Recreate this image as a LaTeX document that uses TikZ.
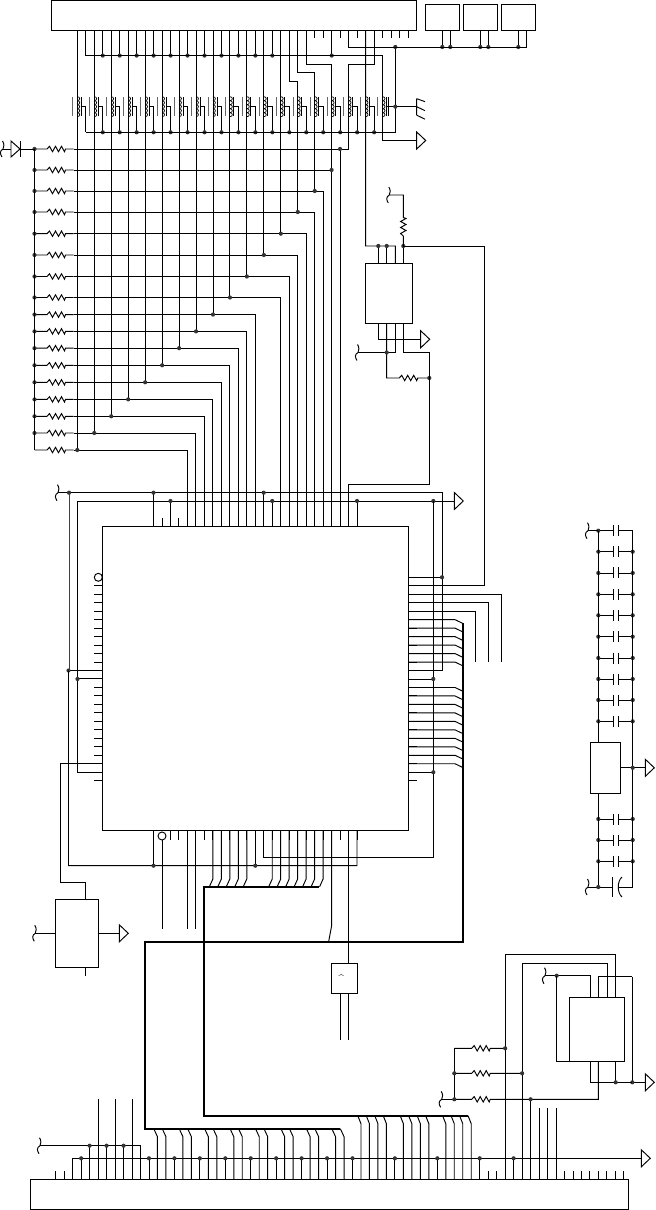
\documentclass[tikz,border=0pt]{standalone}
\def\px{0.01cm}
\def\reszig{-- ++(2.5,-2.7) -- ++(3,5.4) -- ++(3,-5.4) -- ++(3,5.4) -- ++(3,-5.4) -- ++(3,5.4) -- ++(1,-2.7)}
\def\reszigv{-- ++(-2.7,-2.5) -- ++(5.4,-3) -- ++(-5.4,-3) -- ++(5.4,-3) -- ++(-5.4,-3) -- ++(5.4,-3) -- ++(-2.7,-1)}
\newcommand{\jn}[1]{\fill[black!80] (#1) circle (2.1);}
\tikzset{
  icbox/.style={draw,rectangle,inner sep=0pt,outer sep=0pt},
  busline/.style={line width=0.58pt,line join=miter},
  gndtri/.pic={\draw[fill=white] (0,-8.5) -- (9,0) -- (0,8.5) -- cycle;},
  offsheet/.pic={\draw (-0.5,-8) .. controls (1.5,-5) and (1,-2) .. (0,0) .. controls (-3.5,2) and (-3,5) .. (-1,8);},
  chassis/.pic={\draw (0,-8) -- (0,8.5) (0,-8) -- (8.3,-5) (0,0) -- (8.3,4) (0,8.5) -- (8.3,12.5);},
  coilshape/.pic={
    \draw[black!60] (-4.7,-9.5) -- (-4.7,9);
    \draw (4,-9.5) -- (4,9);
    \foreach \c in {-10,-6,-2,2,6} {\draw[line width=0.2pt] (0,\c) .. controls (3.2,\c) and (3.2,\c+4) .. (0,\c+4);}
  }
}
\begin{document}
\begin{tikzpicture}[x=0.01cm,y=-0.01cm,line width=0.27pt]
\useasboundingbox (0,0) rectangle (655,1210);

\node[icbox,minimum width=365.1*\px,minimum height=29.8*\px] (conntop) at (234.15,15.4) {};
\node[icbox,minimum width=34*\px,minimum height=26*\px] (relaya) at (442.3,17.3) {};
\node[icbox,minimum width=34.4*\px,minimum height=26*\px] (relayb) at (480.5,17.3) {};
\node[icbox,minimum width=34.4*\px,minimum height=26*\px] (relayc) at (518.5,17.3) {};
\node[icbox,minimum width=305.7*\px,minimum height=304*\px] (chip) at (255.15,678) {};
\node[icbox,minimum width=47*\px,minimum height=60*\px] (driver) at (388.8,293.3) {};
\node[icbox,minimum width=43*\px,minimum height=68*\px] (psu) at (76.8,933.3) {};
\node[icbox,minimum width=26*\px,minimum height=29.7*\px] (osc) at (344.3,978.15) {};
\node[icbox,minimum width=30*\px,minimum height=51*\px] (vreg) at (605.3,767.8) {};
\node[icbox,minimum width=55.3*\px,minimum height=63.7*\px] (lowbox) at (596.65,1029.15) {};
\node[icbox,minimum width=598.4*\px,minimum height=30*\px] (connbot) at (329.5,1194.3) {};
\node[font=\fontsize{3}{3}\selectfont\bfseries,inner sep=0pt] (osclabel) at (341.3,978.5) {\textasciicircum};

\foreach \k in {0,...,39} {\coordinate (T\k) at ({77.3+8.48*\k},30.3);}
\foreach \k in {0,...,67} {\coordinate (B\k) at ({55.7+8.48*\k},1179.3);}
\foreach \k in {0,...,24} {
  \coordinate (CT\k) at ({153.5+8.48*\k},526);
  \coordinate (CB\k) at ({153.5+8.48*\k},830);
  \coordinate (CR\k) at (408,{577.3+8.475*\k});
}
\foreach \k in {0,...,23} {\coordinate (CL\k) at (102.3,{585.8+8.47*\k});}
\foreach \n/\y in {1/149,2/170,3/191,4/212,5/233.7,6/255,7/276.5,8/297.5,9/314.6,10/331.4,11/348.2,12/365.3,13/382.3,14/399.4,15/416.3,16/433,17/450} {
  \coordinate (R\n) at (34.5,\y);
  \coordinate (E\n) at (73.5,\y);
}
\coordinate (coily) at (0,106.7);
\coordinate (raily) at (0,132.3);
\coordinate (gtop) at (395.3,47);
\coordinate (trione) at (416.7,140.5);
\coordinate (utrail) at (365.6,246);
\coordinate (pw) at (484.3,246);
\coordinate (vcca) at (58,492.7);
\coordinate (vl) at (69,492.7);
\coordinate (vlb) at (68.5,670.5);
\coordinate (trid) at (454.3,501);
\coordinate (dp) at (433.3,501);
\coordinate (rr) at (357,865.7);
\foreach \n/\x in {1/378.3,2/386.7,3/395.3,4/403.3} {
  \coordinate (ut\n) at (\x,263.3);
  \coordinate (ub\n) at (\x,323.3);
}
\foreach \n/\x in {1/590.3,2/598.3,3/607.3,4/615.7} {
  \coordinate (lt\n) at (\x,997.3);
  \coordinate (lb\n) at (\x,1061);
}

\foreach \k in {28,29,31,33,36,37,38,39} {\draw (T\k) -- ++(0,8);}
\foreach \k in {3,5,...,23} {
  \draw (T\k) -- ++(0,25.3) coordinate (d);
  \jn{d}
}
\draw (T30) -- ++(0,25.3) coordinate (d);
\jn{d}
\draw (T1) -- ++(0,25.3) -| (T36 |- trione) -- (trione);
\pic at (trione) {gndtri};

\foreach \k in {0,2,...,36} {\pic at (T\k |- coily) {coilshape};}
\foreach \k in {0,2,...,34} {
  \draw (T\k |- coily) ++(4,0) -- ++(4.5,0) -- ++(0,25.6) coordinate (d);
  \ifnum\k>0 \jn{d} \fi
}
\draw (T1 |- raily) -| (gtop);
\draw (T36 |- coily) ++(4,0) -- (gtop |- coily) -- (416.7,106.7);
\draw (T36 |- coily) ++(5.5,-9.5) -- ++(0,18.5);
\jn{gtop |- coily}
\jn{gtop}
\pic at (416.7,106.7) {chassis};

\foreach \p in {442.3,450.3,480.3,488.3,518.3} {
  \coordinate (rp) at (\p,30.3);
  \draw (rp) -- ++(0,16.7) coordinate (d);
  \jn{d}
}
\coordinate (pc2) at (526.7,30.3);
\draw (T32) -- ++(0,16.7) -| (pc2);

\foreach \n in {1,...,17} {\draw (R\n) -- ++(12.5,0) \reszig -- (E\n);}
\foreach \n in {1,...,16} {\jn{R\n}}
\draw (R1) -- (R17);

\foreach \k/\n/\m in {0/17/4,2/16/5,4/15/6,6/14/7,8/13/8,10/12/9,12/11/10,14/10/11,16/9/12,18/8/15,20/7/16,22/6/17,24/5/18} {
  \draw (T\k) -- (T\k |- R\n);
  \draw (E\n) -| (CT\m);
  \jn{T\k |- R\n}
}
\draw (T25) -- ++(0,50.7) -| (T26 |- R4);
\draw (E4) -| (CT19);
\jn{T26 |- R4}
\draw (T26) -- ++(0,41.7) -| (T28 |- R3);
\draw (E3) -| (CT20);
\jn{T28 |- R3}
\draw (T27) -- ++(0,33.7) -| (CT21);
\draw (E2) -- (CT21 |- R2);
\jn{CT21 |- R2}
\draw (T35) -- ++(0,33.7) -- ++(-25.4,0) |- (E1);
\draw (CT22 |- R1) -- (CT22);
\jn{CT22 |- R1}

\draw (11,149) -- (3,149);
\pic at (3,149) {offsheet};
\draw[fill=white] (11,141) -- (20,149) -- (11,157) -- cycle;
\draw (20.3,141) -- (20.3,157);
\draw (20,149) -- (R1);

\draw (T34) -- (utrail) -| (ut3);
\draw (ut1) -- (ut1 |- utrail);
\draw (ut2) -- (ut2 |- utrail);
\jn{ut1 |- utrail}
\jn{ut2 |- utrail}
\draw (ut4) -- (ut4 |- pw);
\jn{ut4 |- pw}
\draw (CR1) -| (pw) -- (ut4 |- pw);
\draw (ut4 |- pw) -- ++(0,-10) \reszigv -- ++(0,-22.5) -- ++(-14,0) coordinate (d);
\pic at (d) {offsheet};
\coordinate (tribe) at (420.7,339.3);
\draw (ub1) |- (tribe);
\pic at (tribe) {gndtri};
\coordinate (tl) at (358,352.5);
\coordinate (rowr) at (429.3,378);
\coordinate (rowb) at (429.3,484.3);
\draw (ub3) |- (tl);
\pic at (tl) {offsheet};
\draw (ub2) -- ++(0,54.7) -- ++(12.5,0) \reszig -- (rowr);
\jn{ub2 |- tl}
\jn{rowr}
\draw (ub4) |- (rowb |- tl) -- (rowb) -| (CT23);

\foreach \k in {0,...,24} {\draw (CT\k) -- ++(0,-8);}
\foreach \k in {0,2,3,...,24} {\draw (CB\k) -- ++(0,10);}
\foreach \k in {0,...,23} {\draw (CL\k) -- ++(-8,0);}
\foreach \k in {0,...,24} {\draw (CR\k) -- ++(8.7,0);}
\draw (98.3,577.3) circle (4);
\draw (162,836) circle (4);

\pic at (vcca) {offsheet};
\draw (vcca) -- ++(384,0) |- (CR11);
\draw (CL22) -- ++(-24.8,0) |- (trid);
\pic at (trid) {gndtri};
\draw (CL11) -- ++(-24.8,0) coordinate (d);
\jn{d}
\draw (CL10) -- (vlb);
\jn{vlb}
\jn{vl}
\draw[black!75] (vl) -- (vl |- vlb);
\draw (vlb) |- (rr) -- (CB24);
\foreach \k in {0,13} {
  \draw (CT\k) -- (CT\k |- vl);
  \jn{CT\k |- vl}
}
\foreach \k in {2,14,24} {
  \draw (CT\k) -- (CT\k |- trid);
  \jn{CT\k |- trid}
}
\jn{dp}
\draw (dp) -- ++(0,356.3) -| (CB13);
\foreach \k in {12,23} {
  \draw (CR\k) -- (dp |- CR\k);
  \jn{dp |- CR\k}
}
\draw (CR0) -- ++(34,0) coordinate (d);
\jn{d}
\foreach \k/\x in {2/501,3/488.3,4/475.7} {\draw (CR\k) -- (\x,{577.3+8.475*\k}) -- (\x,661.7);}
\foreach \k in {5,6,7,8,9,10,13,14,15,16,17,18,19,20,21,22} {\draw (CR\k) -- ++(47,0) -- ++(7.7,3.7);}

\foreach \k in {0,12} {
  \draw (CB\k) -- (CB\k |- rr);
  \jn{CB\k |- rr}
}
\draw (CB1) ++(0,10) -- (CB1 |- 0,929);
\foreach \k in {4,5} {\draw (CB\k) -- (CB\k |- 0,929);}
\foreach \k in {7,8,9,10,11,14,15,16,17,18,19,20} {\draw (CB\k) -- ++(0,49) -- ++(-3.5,7.7);}
\draw (CB21) -- ++(0,96) -- ++(-3,16);
\draw (CB23) -- (CB23 |- osc.north);
\draw (340,993) -- (340,1040);
\draw (348.6,993) -- (348.6,1040);

\draw[busline] (319,886.7) -- (203.7,886.7) -- (203.7,1115.7) -- (467.7,1115.7);
\draw[busline] (462.7,623.3) -- (462.7,942) -- (145,942) -- (145,1128.7) -- (340,1128.7);

\coordinate (pt) at (85.3,899.3);
\draw (CL21) -- ++(-41.8,0) -- ++(0,118.8) -| (pt);
\draw (85.3,967.3) -- ++(0,9);
\draw (psu.west) -- ++(-20,0) coordinate (d);
\pic at (d) {offsheet};
\coordinate (tric) at (119.3,933.3);
\draw (psu.east) -- (tric);
\pic at (tric) {gndtri};

\coordinate (cla) at (598.3,530.7);
\coordinate (cra) at (632.7,530.7);
\coordinate (clb) at (598.3,887);
\coordinate (crb) at (632.7,887);
\foreach \y in {530.7,551.7,573,594.3,615.3,636.7,658,679,700,721.3,819,840,861.3} {
  \coordinate (cl) at (598.3,\y);
  \coordinate (cr) at (632.7,\y);
  \draw (cl) -- ++(15.4,0) ++(0,-5.5) -- ++(0,11);
  \draw (cr) -- ++(-14.4,0) ++(0,-5.5) -- ++(0,11);
  \jn{cl}
  \ifdim\y pt>531pt \jn{cr} \fi
}
\draw (cla) -- (cla |- vreg.north);
\draw (clb |- vreg.south) -- (clb);
\draw (cra) -- (crb);
\draw (588,530.7) -- (cla);
\pic at (588,530.7) {offsheet};
\draw (588,887) -- (612.7,887);
\pic at (588,887) {offsheet};
\jn{clb}
\draw (612.7,877) -- (612.7,897);
\draw (622,877) .. controls (617,881) and (617,893) .. (622,897);
\draw (618.2,887) -- (crb);
\coordinate (trid2) at (645.3,767.8);
\draw (vreg.east) -- (trid2);
\jn{cra |- vreg.east}
\pic at (trid2) {gndtri};

\foreach \k in {0,1,51,52,60,61,62,63,64,65,66,67} {\draw (B\k) -- ++(0,-8);}
\coordinate (trie) at (641.3,1158.3);
\draw (B2) |- (trie);
\pic at (trie) {gndtri};
\foreach \k in {3,11,14,17,20,23,26,29,32,35,40,45,50,54} {
  \draw (B\k) -- (B\k |- trie);
  \jn{B\k |- trie}
}
\foreach \k in {5,7,9} {\draw (B\k) -- ++(0,-80);}
\foreach \k in {57,58,59} {\draw (B\k) -- ++(0,-71);}
\coordinate (tld) at (40,1145.7);
\pic at (tld) {offsheet};
\draw (tld) -| (B10);
\foreach \k in {4,6,8} {
  \draw (B\k) -- (B\k |- tld);
  \jn{B\k |- tld}
}
\foreach \k in {12,13,15,16,18,19,21,22,24,25,27,28,30,31,33,34} {\draw (B\k) -- ++(0,-42.6) -- ++(-3.7,-8);}
\foreach \k in {36,37,38,39,41,42,43,44,46,47,48,49} {\draw (B\k) -- ++(0,-55.6) -- ++(-3.2,-8);}

\coordinate (re1) at (454.3,1048.3);
\coordinate (re2) at (454.3,1073.3);
\coordinate (re3) at (454.3,1099.3);
\draw (re1) -- (re3);
\draw (re1) -- ++(17.4,0) \reszig -- (B53 |- re1);
\draw (re2) -- ++(17.4,0) \reszig -- (B55 |- re2);
\draw (re3) -- ++(17.4,0) \reszig -- (lb2 |- re3) -- (lb2);
\draw (re3) -- (441.7,1099.3);
\pic at (441.7,1099.3) {offsheet};
\jn{re2}
\jn{re3}
\draw (B53) |- (lt4 |- 0,954.7) -- (lt4);
\jn{B53 |- re1}
\draw (B55) |- (lt3 |- 0,963.3) -- (lt3);
\jn{B55 |- re2}
\draw (B56) -- (B56 |- re3);
\jn{B56 |- re3}
\coordinate (tlf) at (545,975.7);
\pic at (tlf) {offsheet};
\draw (tlf) -| (lt1);
\jn{556.7,975.7}
\draw (556.7,975.7) |- (lb3);
\draw (lt2) |- (632.3,976.7);
\coordinate (trif) at (645.3,1082.3);
\draw (632.3,976.7) |- (trif);
\pic at (trif) {gndtri};
\jn{632.3,1082.3}
\draw (lb1) |- (632.3,1082.3);
\draw (lb4) -- (lb4 |- trif);
\jn{lb4 |- trif}
\end{tikzpicture}
\end{document}
